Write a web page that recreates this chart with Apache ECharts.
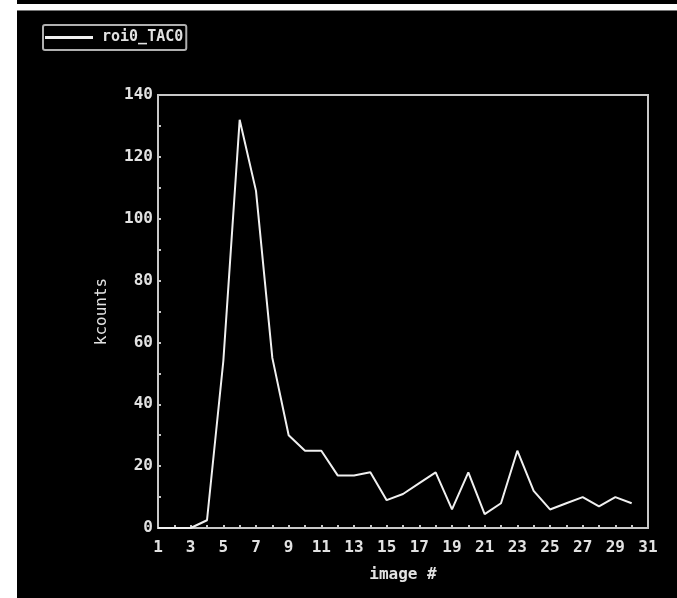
<!DOCTYPE html>
<html>
<head>
<meta charset="utf-8">
<script src="https://cdn.jsdelivr.net/npm/echarts@6/dist/echarts.min.js"></script>
<style>
  html, body { margin: 0; padding: 0; background: #fff; }
  #chart { width: 677px; height: 598px; }
</style>
</head>
<body>
<div id="chart"></div>
<script>
const chart = echarts.init(document.getElementById("chart"));

// image numbers 1..31 on the x axis
const images = Array.from({ length: 31 }, (_, i) => String(i + 1));

// kcounts per image
const tac = [
  0, 0, 0, 2.5, 54, 132, 109, 55, 30, 25,
  25, 17, 17, 18, 9, 11, 14.5, 18, 6, 18,
  4.5, 8, 25, 12, 6, 8, 10, 7, 10, 8
];

const FONT = "DejaVu Sans Mono";
const TXT = "#e2e2e2";
const AXIS = "#c8c8c8";

chart.setOption({
  backgroundColor: "#fff",
  animation: false,

  graphic: [
    // black photo area with the thin white strip near the top
    { type: "rect", shape: { x: 17, y: 0, width: 660, height: 4 }, style: { fill: "#000" }, z: -10 },
    { type: "rect", shape: { x: 17, y: 11, width: 660, height: 587 }, style: { fill: "#000" }, z: -10 },
    { type: "rect", shape: { x: 17, y: 10, width: 660, height: 1 }, style: { fill: "#777" }, z: -10 }
  ],

  legend: {
    left: 43,
    top: 25,
    padding: [5, 3, 5, 2],
    borderColor: "#b0b0b0",
    borderWidth: 2,
    borderRadius: 2,
    itemWidth: 48,
    itemHeight: 3,
    textStyle: { color: TXT, fontFamily: FONT, fontWeight: "bold", fontSize: 15, padding: [0, 0, 0, 4] },
    data: [{ name: "roi0_TAC0", icon: "rect", itemStyle: { color: "#f0f0f0" } }]
  },

  grid: {
    left: 158,
    right: 29,
    top: 95,
    bottom: 70,
    show: true,
    borderColor: AXIS,
    borderWidth: 2
  },

  xAxis: {
    type: "category",
    data: images,
    boundaryGap: false,
    name: "image #",
    nameLocation: "middle",
    nameGap: 39,
    nameTextStyle: { color: TXT, fontFamily: FONT, fontWeight: "bold", fontSize: 16 },
    axisLine: { lineStyle: { color: AXIS, width: 2 } },
    axisTick: { interval: 0, inside: true, length: 3, lineStyle: { color: AXIS, width: 2 } },
    axisLabel: { interval: 1, color: TXT, fontFamily: FONT, fontWeight: "bold", fontSize: 16, margin: 12 },
    splitLine: { show: false }
  },

  yAxis: {
    type: "value",
    min: 0,
    max: 140,
    interval: 20,
    name: "kcounts",
    nameLocation: "middle",
    nameGap: 48,
    nameTextStyle: { color: TXT, fontFamily: FONT, fontSize: 16 },
    axisLine: { show: true, lineStyle: { color: AXIS, width: 2 } },
    axisTick: { show: true, inside: true, length: 3, lineStyle: { color: AXIS, width: 2 } },
    minorTick: { show: true, splitNumber: 2, length: 3, lineStyle: { color: AXIS, width: 2 } },
    axisLabel: { color: TXT, fontFamily: FONT, fontWeight: "bold", fontSize: 16, margin: 5 },
    splitLine: { show: false }
  },

  series: [
    {
      name: "roi0_TAC0",
      type: "line",
      data: tac,
      symbol: "none",
      lineStyle: { color: "#f0f0f0", width: 2 },
      itemStyle: { color: "#f0f0f0" }
    }
  ]
});
</script>
</body>
</html>
